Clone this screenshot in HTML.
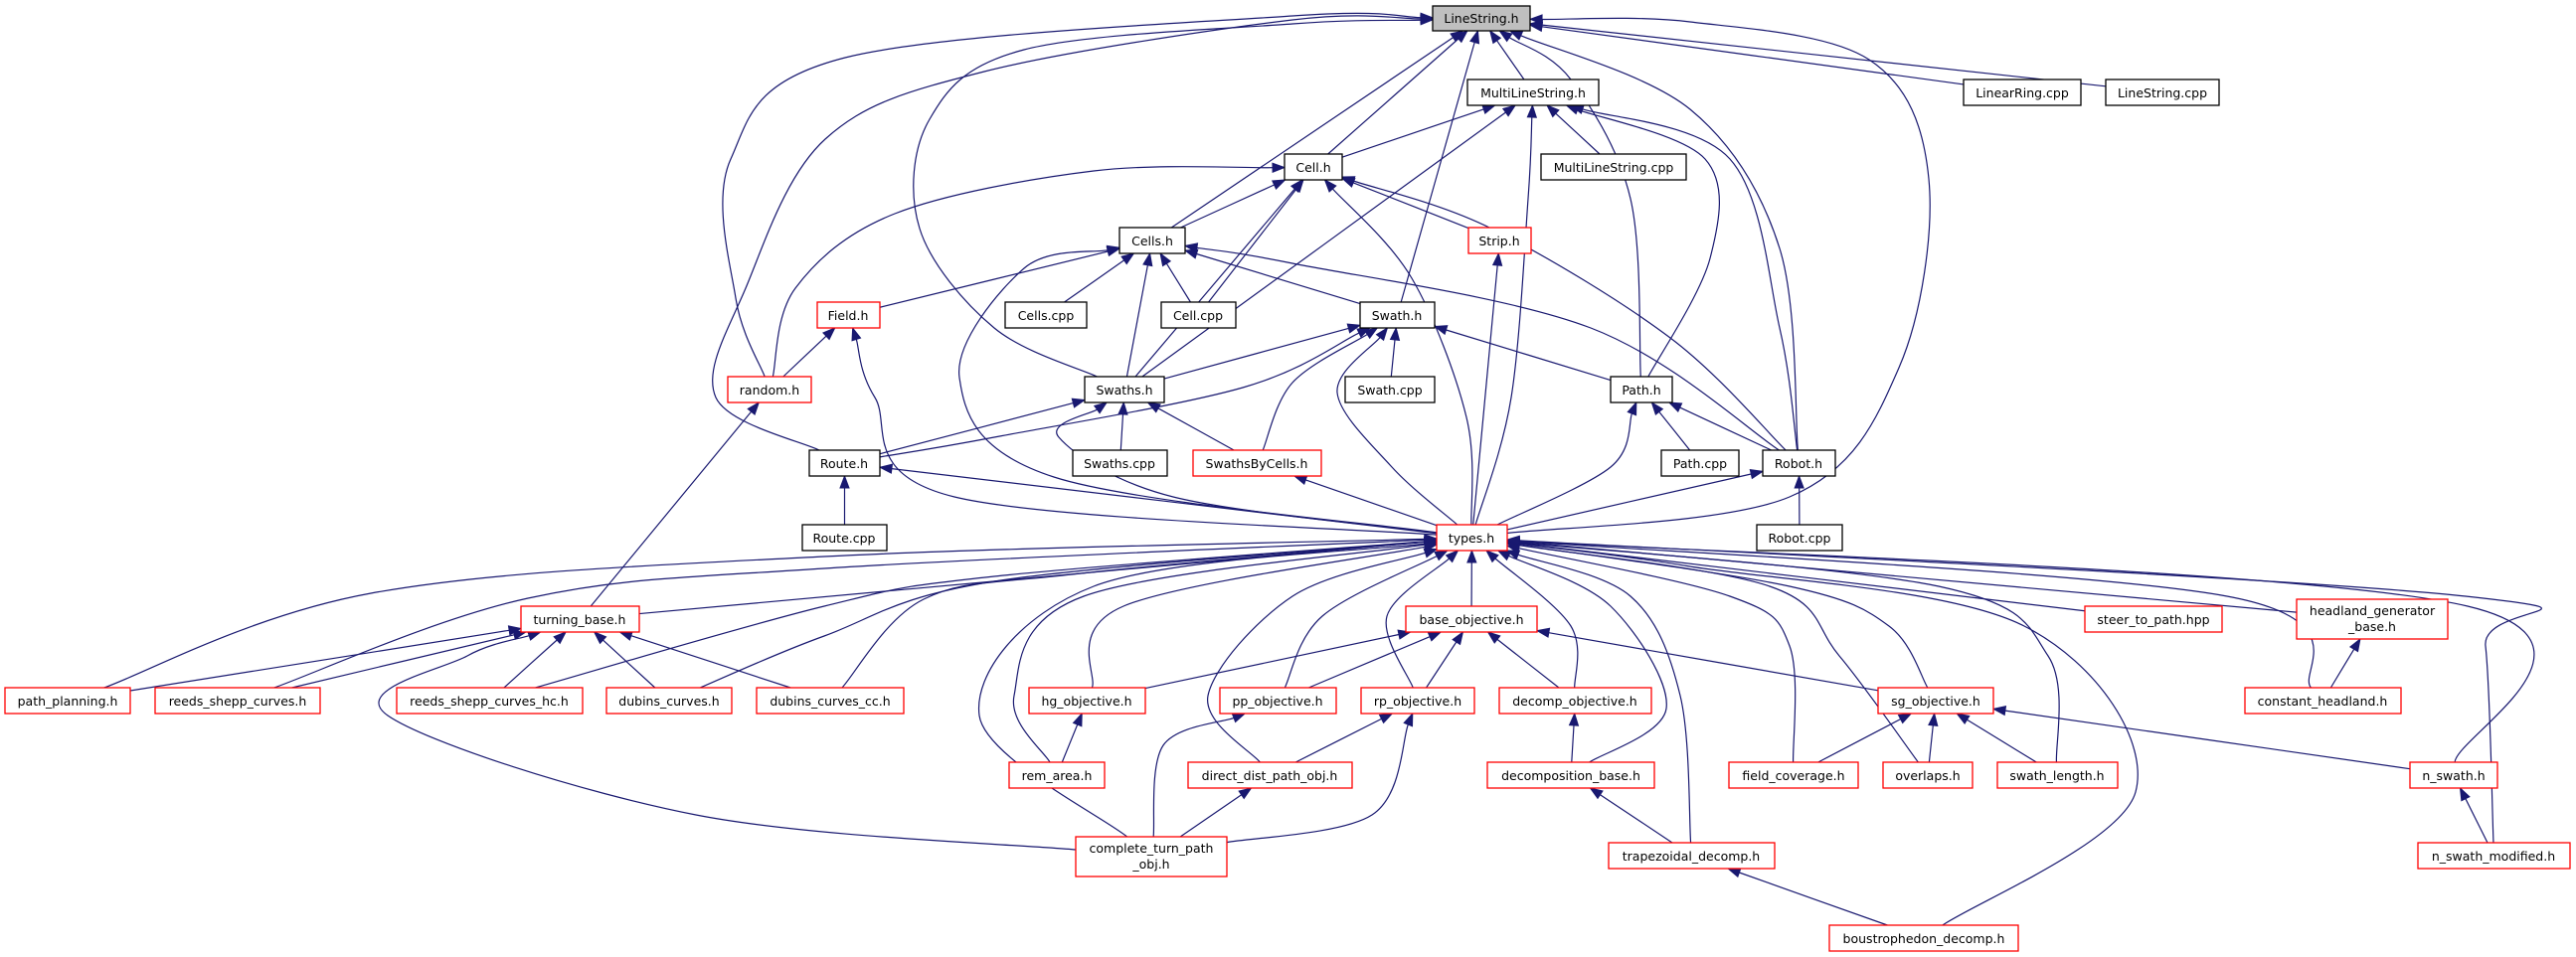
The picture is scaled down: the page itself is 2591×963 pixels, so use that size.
<!DOCTYPE html>
<html><head><meta charset="utf-8"><style>
html,body{margin:0;padding:0;background:#fff;}
svg{display:block;}
text{font-family:"DejaVu Sans","Liberation Sans",sans-serif;font-size:12.5px;fill:#000;}
</style></head><body>
<svg id="g" width="2591" height="963" xmlns="http://www.w3.org/2000/svg">
<g id="edges" fill="none" stroke="#191970" stroke-width="1.2"></g>
<g id="arrows" fill="#191970" stroke="#191970" stroke-width="1"></g>
<g id="nodes" stroke-width="1.3">
<rect x="1441" y="6" width="98" height="25" fill="#bfbfbf" stroke="#000"/><text x="1490" y="23" text-anchor="middle">LineString.h</text>
<rect x="1476" y="80" width="132" height="26" fill="#fff" stroke="#000"/><text x="1542" y="98" text-anchor="middle">MultiLineString.h</text>
<rect x="1975" y="80" width="118" height="26" fill="#fff" stroke="#000"/><text x="2034" y="98" text-anchor="middle">LinearRing.cpp</text>
<rect x="2118" y="80" width="114" height="26" fill="#fff" stroke="#000"/><text x="2175" y="98" text-anchor="middle">LineString.cpp</text>
<rect x="1292" y="155" width="58" height="26" fill="#fff" stroke="#000"/><text x="1321" y="173" text-anchor="middle">Cell.h</text>
<rect x="1550" y="155" width="146" height="26" fill="#fff" stroke="#000"/><text x="1623" y="173" text-anchor="middle">MultiLineString.cpp</text>
<rect x="1126" y="229" width="66" height="26" fill="#fff" stroke="#000"/><text x="1159" y="247" text-anchor="middle">Cells.h</text>
<rect x="1477" y="229" width="63" height="26" fill="#fff" stroke="#f00"/><text x="1508" y="247" text-anchor="middle">Strip.h</text>
<rect x="822" y="304" width="63" height="26" fill="#fff" stroke="#f00"/><text x="853" y="322" text-anchor="middle">Field.h</text>
<rect x="1011" y="304" width="82" height="26" fill="#fff" stroke="#000"/><text x="1052" y="322" text-anchor="middle">Cells.cpp</text>
<rect x="1168" y="304" width="75" height="26" fill="#fff" stroke="#000"/><text x="1205" y="322" text-anchor="middle">Cell.cpp</text>
<rect x="1368" y="304" width="75" height="26" fill="#fff" stroke="#000"/><text x="1405" y="322" text-anchor="middle">Swath.h</text>
<rect x="732" y="379" width="84" height="26" fill="#fff" stroke="#f00"/><text x="774" y="397" text-anchor="middle">random.h</text>
<rect x="1091" y="379" width="80" height="26" fill="#fff" stroke="#000"/><text x="1131" y="397" text-anchor="middle">Swaths.h</text>
<rect x="1353" y="379" width="90" height="26" fill="#fff" stroke="#000"/><text x="1398" y="397" text-anchor="middle">Swath.cpp</text>
<rect x="1620" y="379" width="62" height="26" fill="#fff" stroke="#000"/><text x="1651" y="397" text-anchor="middle">Path.h</text>
<rect x="814" y="453" width="71" height="26" fill="#fff" stroke="#000"/><text x="849" y="471" text-anchor="middle">Route.h</text>
<rect x="1079" y="453" width="95" height="26" fill="#fff" stroke="#000"/><text x="1126" y="471" text-anchor="middle">Swaths.cpp</text>
<rect x="1200" y="453" width="129" height="26" fill="#fff" stroke="#f00"/><text x="1264" y="471" text-anchor="middle">SwathsByCells.h</text>
<rect x="1671" y="453" width="78" height="26" fill="#fff" stroke="#000"/><text x="1710" y="471" text-anchor="middle">Path.cpp</text>
<rect x="1773" y="453" width="73" height="26" fill="#fff" stroke="#000"/><text x="1809" y="471" text-anchor="middle">Robot.h</text>
<rect x="807" y="528" width="85" height="26" fill="#fff" stroke="#000"/><text x="849" y="546" text-anchor="middle">Route.cpp</text>
<rect x="1445" y="528" width="71" height="26" fill="#fff" stroke="#f00"/><text x="1480" y="546" text-anchor="middle">types.h</text>
<rect x="1767" y="528" width="86" height="26" fill="#fff" stroke="#000"/><text x="1810" y="546" text-anchor="middle">Robot.cpp</text>
<rect x="524" y="610" width="119" height="26" fill="#fff" stroke="#f00"/><text x="583" y="628" text-anchor="middle">turning_base.h</text>
<rect x="1414" y="610" width="132" height="26" fill="#fff" stroke="#f00"/><text x="1480" y="628" text-anchor="middle">base_objective.h</text>
<rect x="2097" y="610" width="138" height="26" fill="#fff" stroke="#f00"/><text x="2166" y="628" text-anchor="middle">steer_to_path.hpp</text>
<rect x="2310" y="603" width="152" height="40" fill="#fff" stroke="#f00"/><text x="2386" y="619" text-anchor="middle">headland_generator</text><text x="2386" y="635" text-anchor="middle">_base.h</text>
<rect x="5" y="692" width="126" height="26" fill="#fff" stroke="#f00"/><text x="68" y="710" text-anchor="middle">path_planning.h</text>
<rect x="156" y="692" width="166" height="26" fill="#fff" stroke="#f00"/><text x="239" y="710" text-anchor="middle">reeds_shepp_curves.h</text>
<rect x="399" y="692" width="187" height="26" fill="#fff" stroke="#f00"/><text x="492" y="710" text-anchor="middle">reeds_shepp_curves_hc.h</text>
<rect x="610" y="692" width="126" height="26" fill="#fff" stroke="#f00"/><text x="673" y="710" text-anchor="middle">dubins_curves.h</text>
<rect x="761" y="692" width="148" height="26" fill="#fff" stroke="#f00"/><text x="835" y="710" text-anchor="middle">dubins_curves_cc.h</text>
<rect x="1035" y="692" width="117" height="26" fill="#fff" stroke="#f00"/><text x="1093" y="710" text-anchor="middle">hg_objective.h</text>
<rect x="1227" y="692" width="117" height="26" fill="#fff" stroke="#f00"/><text x="1285" y="710" text-anchor="middle">pp_objective.h</text>
<rect x="1369" y="692" width="114" height="26" fill="#fff" stroke="#f00"/><text x="1426" y="710" text-anchor="middle">rp_objective.h</text>
<rect x="1508" y="692" width="153" height="26" fill="#fff" stroke="#f00"/><text x="1584" y="710" text-anchor="middle">decomp_objective.h</text>
<rect x="1889" y="692" width="116" height="26" fill="#fff" stroke="#f00"/><text x="1947" y="710" text-anchor="middle">sg_objective.h</text>
<rect x="2258" y="692" width="157" height="26" fill="#fff" stroke="#f00"/><text x="2336" y="710" text-anchor="middle">constant_headland.h</text>
<rect x="1015" y="767" width="96" height="26" fill="#fff" stroke="#f00"/><text x="1063" y="785" text-anchor="middle">rem_area.h</text>
<rect x="1195" y="767" width="165" height="26" fill="#fff" stroke="#f00"/><text x="1277" y="785" text-anchor="middle">direct_dist_path_obj.h</text>
<rect x="1496" y="767" width="168" height="26" fill="#fff" stroke="#f00"/><text x="1580" y="785" text-anchor="middle">decomposition_base.h</text>
<rect x="1739" y="767" width="130" height="26" fill="#fff" stroke="#f00"/><text x="1804" y="785" text-anchor="middle">field_coverage.h</text>
<rect x="1894" y="767" width="90" height="26" fill="#fff" stroke="#f00"/><text x="1939" y="785" text-anchor="middle">overlaps.h</text>
<rect x="2009" y="767" width="121" height="26" fill="#fff" stroke="#f00"/><text x="2069" y="785" text-anchor="middle">swath_length.h</text>
<rect x="2424" y="767" width="88" height="26" fill="#fff" stroke="#f00"/><text x="2468" y="785" text-anchor="middle">n_swath.h</text>
<rect x="1082" y="842" width="152" height="40" fill="#fff" stroke="#f00"/><text x="1158" y="858" text-anchor="middle">complete_turn_path</text><text x="1158" y="874" text-anchor="middle">_obj.h</text>
<rect x="1618" y="848" width="167" height="26" fill="#fff" stroke="#f00"/><text x="1701" y="866" text-anchor="middle">trapezoidal_decomp.h</text>
<rect x="2432" y="848" width="153" height="26" fill="#fff" stroke="#f00"/><text x="2508" y="866" text-anchor="middle">n_swath_modified.h</text>
<rect x="1840" y="931" width="190" height="26" fill="#fff" stroke="#f00"/><text x="1935" y="949" text-anchor="middle">boustrophedon_decomp.h</text>
</g>
</svg>
<script>
var R={};
document.querySelectorAll('#nodes rect').forEach(function(r){
  var t=r.nextElementSibling.textContent;
  var n=r.nextElementSibling.nextElementSibling;
  if(n&&n.tagName==='text')t+=n.textContent;
  R[t]={x:+r.getAttribute('x'),y:+r.getAttribute('y'),w:+r.getAttribute('width'),h:+r.getAttribute('height')};
});
function N(k){for(var n in R){if(n===k||n.indexOf(k)===0)return R[n];}console.log('missing',k);}
function bnd(b,px,py){var cx=b.x+b.w/2,cy=b.y+b.h/2,dx=px-cx,dy=py-cy;
  var s=Math.min(Math.abs((b.w/2)/(dx||1e-9)),Math.abs((b.h/2)/(dy||1e-9)));return [cx+dx*s,cy+dy*s];}
var E=[
['MultiLineString.h','LineString.h'],['Cell.h','LineString.h'],['Cells.h','LineString.h'],
['Swaths.h','LineString.h',[[1000,330],[925,230],[935,120],[1030,50],[1300,24]]],
['random.h','LineString.h',[[740,300],[735,160],[850,58],[1300,16]]],
['Route.h','LineString.h',[[720,400],[750,290],[830,140],[990,72],[1300,20]]],
['Swath.h','LineString.h'],['LinearRing.cpp','LineString.h'],['LineString.cpp','LineString.h'],
['Path.h','LineString.h',[[1640,200],[1580,80]]],['Robot.h','LineString.h',[[1790,250],[1700,110]]],
['types.h','LineString.h',[[1800,500],[1910,370],[1940,180],[1880,60],[1700,22]]],
['Cell.h','MultiLineString.h'],['MultiLineString.cpp','MultiLineString.h'],['Swaths.h','MultiLineString.h'],
['types.h','MultiLineString.h',[[1520,400],[1537,200]]],
['Path.h','MultiLineString.h',[[1720,260],[1715,160]]],['Robot.h','MultiLineString.h',[[1790,330],[1740,160]]],
['Cells.h','Cell.h'],['Cell.cpp','Cell.h'],['Swaths.h','Cell.h'],['Strip.h','Cell.h'],
['types.h','Cell.h',[[1475,420],[1420,280]]],['Robot.h','Cell.h',[[1680,340],[1500,230]]],
['random.h','Cell.h',[[800,290],[900,215],[1100,172]]],
['Field.h','Cells.h'],['Cells.cpp','Cells.h'],['Cell.cpp','Cells.h'],['Swaths.h','Cells.h'],['Swath.h','Cells.h'],
['Robot.h','Cells.h',[[1600,330],[1300,265]]],['types.h','Cells.h',[[1060,480],[965,380],[1030,270]]],
['types.h','Strip.h'],['random.h','Field.h'],['types.h','Field.h',[[960,500],[880,400]]],
['Swaths.h','Swath.h'],['Swath.cpp','Swath.h'],['Path.h','Swath.h'],['SwathsByCells.h','Swath.h',[[1300,385]]],
['types.h','Swath.h',[[1400,470],[1345,395]]],['Route.h','Swath.h',[[1000,440],[1250,390]]],
['turning_base.h','random.h'],['Route.h','Swaths.h'],['Swaths.cpp','Swaths.h'],['SwathsByCells.h','Swaths.h'],
['types.h','Swaths.h',[[1180,500],[1065,440]]],
['Path.cpp','Path.h'],['Robot.h','Path.h'],['types.h','Path.h',[[1620,470]]],
['Route.cpp','Route.h'],['types.h','Route.h'],['types.h','SwathsByCells.h'],['Robot.cpp','Robot.h'],['types.h','Robot.h'],
['turning_base.h','types.h'],
['path_planning.h','types.h',[[373,597],[829,560]]],
['reeds_shepp_curves.h','types.h',[[531,602],[829,572]]],
['reeds_shepp_curves_hc.h','types.h',[[829,610],[1000,580]]],
['dubins_curves.h','types.h',[[829,640],[1000,585]]],
['dubins_curves_cc.h','types.h',[[929,603],[1078,578]]],
['complete_turn','types.h',[[985,720],[1100,590]]],
['hg_objective.h','types.h',[[1130,610]]],
['rem_area.h','types.h',[[1020,700],[1090,600]]],
['pp_objective.h','types.h',[[1330,620]]],
['direct_dist','types.h',[[1215,700],[1300,600]]],
['rp_objective.h','types.h',[[1395,620]]],
['base_objective.h','types.h'],
['decomp_objective.h','types.h',[[1580,630]]],
['decomposition_base.h','types.h',[[1676,713],[1620,610]]],
['trapezoidal_decomp.h','types.h',[[1690,700],[1640,600]]],
['boustrophedon_decomp.h','types.h',[[2148,797],[2036,630],[1700,570]]],
['field_coverage.h','types.h',[[1800,650],[1740,600]]],
['overlaps.h','types.h',[[1850,660],[1780,590]]],
['sg_objective.h','types.h',[[1900,630],[1800,590]]],
['swath_length.h','types.h',[[2060,660],[1950,590]]],
['steer_to_path.hpp','types.h'],['headland','types.h'],
['constant_headland.h','types.h',[[2240,600]]],
['n_swath.h','types.h',[[2482,610]]],
['n_swath_modified.h','types.h',[[2500,650],[2480,600]]],
['path_planning.h','turning_base.h'],['reeds_shepp_curves.h','turning_base.h'],['reeds_shepp_curves_hc.h','turning_base.h'],
['dubins_curves.h','turning_base.h'],['dubins_curves_cc.h','turning_base.h'],
['complete_turn','turning_base.h',[[700,820],[390,720],[470,660]]],
['hg_objective.h','base_objective.h'],['pp_objective.h','base_objective.h'],['rp_objective.h','base_objective.h'],
['decomp_objective.h','base_objective.h'],['sg_objective.h','base_objective.h'],
['rem_area.h','hg_objective.h'],['complete_turn','pp_objective.h',[[1170,750]]],['complete_turn','direct_dist'],
['direct_dist','rp_objective.h'],['complete_turn','rp_objective.h',[[1380,820]]],
['decomposition_base.h','decomp_objective.h'],['trapezoidal_decomp.h','decomposition_base.h'],
['boustrophedon_decomp.h','trapezoidal_decomp.h'],
['field_coverage.h','sg_objective.h'],['overlaps.h','sg_objective.h'],['swath_length.h','sg_objective.h'],['n_swath.h','sg_objective.h'],
['constant_headland.h','headland'],['n_swath_modified.h','n_swath.h']
];
var eg=document.getElementById('edges'),ag=document.getElementById('arrows'),NS='http://www.w3.org/2000/svg';
E.forEach(function(e){
  var c=N(e[0]),p=N(e[1]),w=e[2]||[];
  var pc=[p.x+p.w/2,p.y+p.h/2],cc=[c.x+c.w/2,c.y+c.h/2];
  var first=w.length?w[0]:pc,last=w.length?w[w.length-1]:cc;
  var s=bnd(c,first[0],first[1]),t=bnd(p,last[0],last[1]);
  var pts=[s].concat(w).concat([t]);
  // shorten end for arrow
  var a=pts[pts.length-2],dx=t[0]-a[0],dy=t[1]-a[1],L=Math.hypot(dx,dy)||1,ux=dx/L,uy=dy/L,AL=12;
  var te=[t[0]-ux*AL,t[1]-uy*AL];pts[pts.length-1]=te;
  var d='M'+pts[0][0]+','+pts[0][1];
  for(var i=0;i<pts.length-1;i++){
    var p0=pts[Math.max(0,i-1)],p1=pts[i],p2=pts[i+1],p3=pts[Math.min(pts.length-1,i+2)];
    var c1=[p1[0]+(p2[0]-p0[0])/6,p1[1]+(p2[1]-p0[1])/6],c2=[p2[0]-(p3[0]-p1[0])/6,p2[1]-(p3[1]-p1[1])/6];
    d+=' C'+c1[0].toFixed(1)+','+c1[1].toFixed(1)+' '+c2[0].toFixed(1)+','+c2[1].toFixed(1)+' '+p2[0].toFixed(1)+','+p2[1].toFixed(1);
  }
  var pa=document.createElementNS(NS,'path');pa.setAttribute('d',d);eg.appendChild(pa);
  var px=-uy,py=ux,hw=4.5;
  var tri=document.createElementNS(NS,'polygon');
  tri.setAttribute('points',t[0]+','+t[1]+' '+(te[0]+px*hw)+','+(te[1]+py*hw)+' '+(te[0]-px*hw)+','+(te[1]-py*hw));
  ag.appendChild(tri);
});
</script>
</body></html>
